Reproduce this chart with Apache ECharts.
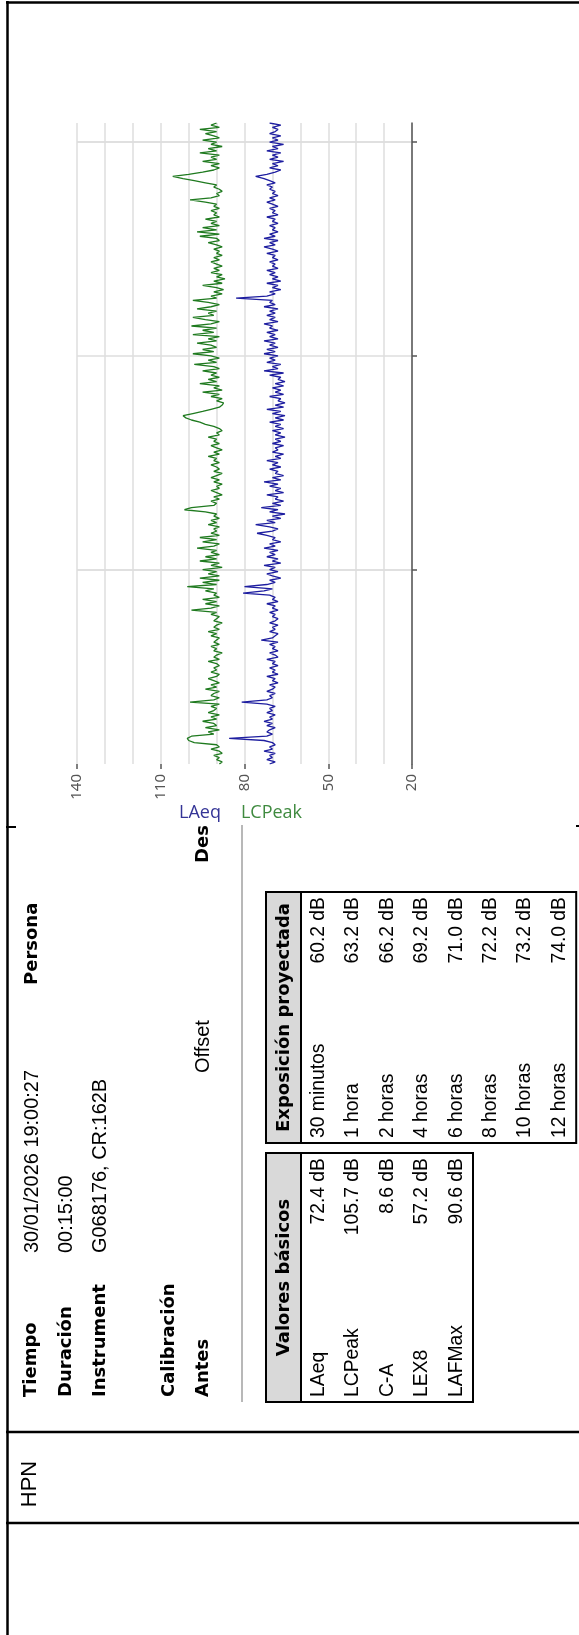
<!DOCTYPE html>
<html>
<head>
<meta charset="utf-8">
<script src="https://cdn.jsdelivr.net/npm/echarts@6/dist/echarts.min.js"></script>
<style>
  html, body { margin: 0; padding: 0; background: #fff; }
  #main { width: 579px; height: 1635px; }
</style>
</head>
<body>
<div id="main"></div>
<script>
// Measurement session
const sessionDate = [2026, 0, 30];
const startClock = [19, 0, 27];
const durationSec = 900;
const sampleStepSec = 3;
const timeTicks = ['19:05:00', '19:10:00', '19:15:00'];

// LCPeak time history, one sample every 3 s (dB)
const lcpeak = [
  89, 88, 90, 89, 91, 88, 89, 92, 89, 90, 98, 100, 100.5, 99, 91, 93, 89, 94, 90, 91,
  95, 90, 92, 89, 93, 91, 90, 92, 89, 99.5, 91, 89, 92, 91, 89, 94, 90, 92, 89, 91,
  93, 90, 89, 92, 90, 91, 89, 90, 93, 89, 91, 90, 88, 91, 90, 92, 89, 91, 90, 89,
  92, 90, 93, 89, 91, 90, 88, 91, 90, 89, 92, 90, 99, 92, 89, 94, 90, 95, 89, 91,
  90, 94, 91, 100.5, 90, 95, 89, 96, 89, 93, 90, 95, 88, 92, 89, 96, 90, 94, 89, 92,
  90, 97, 91, 89, 95, 90, 96, 89, 92, 90, 91, 89, 93, 90, 92, 89, 91, 90, 94, 101.5,
  99, 91, 90, 92, 89, 91, 88, 90, 92, 89, 90, 88, 91, 89, 92, 90, 88, 91, 89, 90,
  92, 89, 91, 90, 93, 89, 91, 88, 90, 92, 89, 91, 90, 93, 89, 90, 88, 89, 91, 94,
  96, 99, 101, 102, 98.5, 95, 92, 89, 88, 87.5, 90, 88, 92, 89, 95, 88, 91, 89, 96, 90,
  93, 89, 92, 90, 95, 89, 91, 98, 90, 93, 89, 92, 98.5, 91, 95, 90, 92, 97, 90, 93,
  89, 98.5, 91, 95, 90, 99, 92, 89, 94, 98.5, 91, 93, 90, 97, 92, 89, 93, 98.5, 90, 92,
  88, 91, 87.5, 90, 95, 88, 91, 87, 90, 88, 92, 89, 91, 88, 90, 92, 89, 91, 88, 90,
  89, 91, 88, 90, 93, 89, 90, 96, 89, 97, 90, 95, 89, 92, 90, 94, 89, 91, 90, 92,
  89, 91, 90, 94, 99.5, 92, 89, 90, 88, 89, 91, 90, 94, 98, 102, 105.7, 100, 95, 91, 89,
  92, 89, 95, 90, 92, 89, 96, 90, 93, 88, 92, 90, 95, 89, 91, 94, 90, 96, 89, 92, 90
];

// LAeq time history, one sample every 3 s (dB)
const laeq = [
  71, 69, 72, 70, 71, 69, 73, 70, 71, 69, 70, 73, 85.5, 72, 70, 72, 71, 69, 72, 70,
  73, 70, 71, 69, 72, 70, 71, 69, 72, 81, 72, 70, 71, 69, 72, 70, 69, 71, 68, 70,
  69, 72, 68, 70, 69, 71, 68, 70, 69, 72, 68, 69, 71, 68, 70, 69, 71, 68, 74, 70,
  69, 68, 71, 69, 70, 68, 71, 69, 68, 70, 69, 71, 68, 70, 69, 72, 68, 70, 69, 71,
  80.5, 73, 70, 80, 72, 69, 71, 67, 70, 72, 68, 71, 69, 73, 67, 70, 68, 72, 69, 71,
  68, 73, 69, 71, 67, 70, 69, 72, 75.5, 70, 68, 71, 76, 69, 72, 67, 70, 65.5, 71, 68,
  74, 67, 70, 66, 69, 68, 72, 66, 69, 67, 71, 68, 73, 67, 70, 66, 69, 68, 71, 67,
  70, 68, 72, 67, 69, 66, 70, 68, 69, 66, 70, 67, 69, 65.5, 69, 67, 70, 66, 69, 67,
  71, 66, 69, 65.5, 70, 67, 72, 66, 69, 65.5, 68, 67, 71, 66, 69, 67, 70, 66, 69, 65.5,
  68, 67, 71, 66, 73, 68, 70, 67, 72, 69, 71, 68, 73, 69, 72, 68, 71, 69, 73, 68,
  71, 69, 72, 68, 71, 70, 73, 68, 71, 69, 72, 69, 71, 68, 73, 69, 71, 70, 83, 72,
  69, 71, 67, 70, 68, 72, 67, 70, 68, 71, 69, 72, 68, 70, 69, 71, 68, 70, 69, 72,
  68, 70, 73, 69, 71, 68, 73, 69, 71, 68, 70, 69, 71, 68, 70, 69, 72, 68, 70, 69,
  71, 68, 70, 72, 69, 71, 68, 70, 69, 71, 70, 72, 69, 71, 73, 76, 72, 69, 67, 71,
  68, 70, 66, 71, 68, 70, 67, 72, 68, 70, 66, 71, 68, 70, 67, 71, 69, 68, 70, 67, 71
];

// Report header fields
const infoLabels = ['Tiempo', 'Duración', 'Instrument'];
const infoValues = ['30/01/2026 19:00:27', '00:15:00', 'G068176, CR:162B'];

// Summary tables
const basicNames = ['LAeq', 'LCPeak', 'C-A', 'LEX8', 'LAFMax'];
const basicValues = [72.4, 105.7, 8.6, 57.2, 90.6];
const projNames = ['30 minutos', '1 hora', '2 horas', '4 horas', '6 horas', '8 horas', '10 horas', '12 horas'];
const projValues = [60.2, 63.2, 66.2, 69.2, 71.0, 72.2, 73.2, 74.0];

function clockToMs(h, m, s) {
  return new Date(sessionDate[0], sessionDate[1], sessionDate[2], h, m, s).getTime();
}
const startTime = clockToMs(startClock[0], startClock[1], startClock[2]);
const endTime = startTime + durationSec * 1000;
const tickTimes = timeTicks.map(function (t) {
  const p = t.split(':').map(Number);
  return clockToMs(p[0], p[1], p[2]);
});

const BOLD = 'bold 18px "DejaVu Sans", Verdana, sans-serif';
const REG = '21px "Liberation Sans", Arial, sans-serif';

// Text laid out bottom-to-top (rotated a quarter turn anticlockwise)
function vtext(x, y, text, font, align, sx) {
  return {
    type: 'text', x: x, y: y, rotation: Math.PI / 2, scaleX: sx || 1,
    style: { text: text, font: font, fill: '#000', align: align || 'left', verticalAlign: 'middle' }
  };
}
function hline(x1, x2, y, w, c) {
  return { type: 'line', shape: { x1: x1, y1: y, x2: x2, y2: y }, style: { stroke: c || '#000', lineWidth: w } };
}
function vline(x, y1, y2, w, c) {
  return { type: 'line', shape: { x1: x, y1: y1, x2: x, y2: y2 }, style: { stroke: c || '#000', lineWidth: w } };
}
function table(x, yTop, yBot, headW, rowW, title, names, values) {
  const els = [];
  const w = headW + rowW * names.length;
  els.push({ type: 'rect', shape: { x: x, y: yTop, width: w, height: yBot - yTop },
             style: { fill: '#fff', stroke: '#000', lineWidth: 2 } });
  els.push({ type: 'rect', shape: { x: x, y: yTop, width: headW, height: yBot - yTop },
             style: { fill: '#d9d9d9', stroke: '#000', lineWidth: 2 } });
  els.push(vtext(x + headW / 2 + 1, (yTop + yBot) / 2, title, BOLD, 'center'));
  names.forEach(function (n, i) {
    const cx = x + headW + rowW * (i + 0.5);
    els.push(vtext(cx, yBot - 5, n, REG, 'left', 0.92));
    els.push(vtext(cx, yTop + 5, values[i].toFixed(1) + ' dB', REG, 'right', 0.92));
  });
  return els;
}

const graphics = [
  // page frame
  hline(6, 579, 2.5, 2.5),
  vline(7.5, 1, 1635, 2.5),
  hline(6, 16, 827, 2),
  hline(576, 579, 826, 2),
  hline(6, 579, 1432, 2.5),
  hline(6, 579, 1523, 2.5),
  vtext(30, 1484, 'HPN', '22px "Liberation Sans", Arial, sans-serif', 'center'),
  // header block
  vtext(31, 1397, infoLabels[0], BOLD),
  vtext(66, 1397, infoLabels[1], BOLD),
  vtext(100, 1397, infoLabels[2], BOLD),
  vtext(32, 1253, infoValues[0], REG, 'left', 0.95),
  vtext(66, 1253, infoValues[1], REG, 'left', 0.95),
  vtext(100, 1253, infoValues[2], REG, 'left', 0.95),
  vtext(32, 985, 'Persona', BOLD),
  vtext(169, 1397, 'Calibración', BOLD),
  vtext(203, 1397, 'Antes', BOLD),
  vtext(203, 1073, 'Offset', REG, 'left', 0.95),
  vtext(203, 863, 'Des', BOLD),
  vline(242, 825, 1402, 1.5, '#a0a0a0')
].concat(
  table(266, 1153, 1402, 35, 34.4, 'Valores básicos', basicNames, basicValues),
  table(266, 892, 1143, 35, 34.4, 'Exposición proyectada', projNames, projValues)
);

const toSeries = arr => arr.map((v, i) => [v, startTime + i * sampleStepSec * 1000]);
const gridColor = '#dedede';
const axisColor = '#555';

const chart = echarts.init(document.getElementById('main'), null, { renderer: 'canvas' });
chart.setOption({
  animation: false,
  backgroundColor: '#fff',
  grid: { left: 77, right: 167, top: 123, bottom: 871, containLabel: false },
  legend: {
    left: 168, top: 799, itemWidth: 0, itemHeight: 0, itemGap: 14,
    textStyle: { fontFamily: '"Open Sans", sans-serif', fontSize: 18 },
    data: [
      { name: 'LAeq', textStyle: { color: '#343496' } },
      { name: 'LCPeak', textStyle: { color: '#3f8a3f' } }
    ]
  },
  xAxis: [
    {
      type: 'value', min: 20, max: 140, interval: 30, inverse: true, position: 'bottom',
      axisLine: { onZero: false, lineStyle: { color: axisColor, width: 1.5 } },
      axisTick: { show: true, length: 5, lineStyle: { color: axisColor, width: 1.5 } },
      axisLabel: { rotate: 90, margin: 10, color: '#555', fontFamily: '"Noto Sans", sans-serif', fontSize: 15 },
      splitLine: { show: false }
    },
    {
      type: 'value', min: 20, max: 140, interval: 10, inverse: true, position: 'top',
      axisLine: { show: false }, axisTick: { show: false }, axisLabel: { show: false },
      splitLine: { show: true, lineStyle: { color: gridColor, width: 1.5 } }
    }
  ],
  yAxis: {
    type: 'time', min: startTime, max: endTime, position: 'right',
    axisLine: { onZero: false, lineStyle: { color: axisColor, width: 1.5 } },
    axisTick: { show: true, length: 5, customValues: tickTimes, lineStyle: { color: axisColor, width: 1.5 } },
    axisLabel: { show: false, customValues: tickTimes },
    splitLine: { show: true, lineStyle: { color: gridColor, width: 1.5 } }
  },
  series: [
    {
      name: 'LAeq', type: 'line', xAxisIndex: 0, data: toSeries(laeq),
      showSymbol: false, symbol: 'none', lineStyle: { color: '#1e1ea0', width: 1.3 }, itemStyle: { color: '#1e1ea0' }
    },
    {
      name: 'LCPeak', type: 'line', xAxisIndex: 0, data: toSeries(lcpeak),
      showSymbol: false, symbol: 'none', lineStyle: { color: '#1f7a1f', width: 1.3 }, itemStyle: { color: '#1f7a1f' }
    }
  ],
  graphic: { elements: graphics }
});
</script>
</body>
</html>
